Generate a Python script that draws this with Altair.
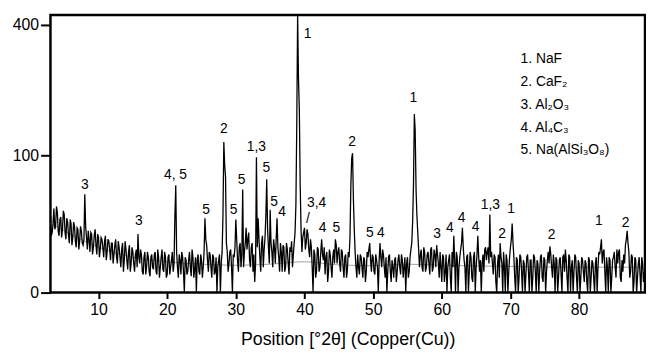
import altair as alt
import pandas as pd

# ---- data ----
two_theta_start = 3.0
two_theta_step = 0.25
# intensities on the 0.25° grid (3.00 ... 89.50)
intensity = [
    30, 18, 36, 22, 33, 16, 29, 20, 31, 14, 25, 12, 24, 15, 22, 10, 20, 13, 19, 11,
    50, 15, 19, 8, 17, 10, 20, 7, 15, 9, 14, 6, 16, 8, 13, 5, 12, 7, 14, 4,
    10, 3, 12, 5, 9, 2.5, 11, 4, 8, 2, 9, 17, 4, 7, 1.5, 8, 3, 6, 1.2, 7,
    2.5, 8, 1.5, 6, 3, 9, 2, 6, 1.5, 7, 3, 8, 4, 60, 3, 7, 1.5, 6, 0, 5,
    2, 8, 1.2, 6, 2.5, 0, 7, 1.5, 5, 3, 28, 11, 2, 7, 1, 6, 2, 0, 5, 0,
    8, 121, 70, 8, 4, 9, 0, 6, 27, 5, 10, 3, 55, 8, 21, 14, 5, 10, 2, 0.5,
    97, 28, 6, 12, 3, 15, 67, 10, 35, 8, 14, 4, 28, 6, 12, 2, 10, 3, 9, 1.5,
    8, 3, 12, 40, 429, 180, 20, 15, 21, 12, 17, 6, 10, 0, 7, 2, 9, 3, 14, 5,
    1.5, 8, 2, 7, 1, 9, 14, 4, 10, 2, 8, 1, 7, 2.5, 6, 58, 103, 20, 3, 7,
    1.5, 6, 1, 5, 2, 6, 12, 2, 6, 1.5, 5, 0, 12, 3, 7, 1, 0, 6, 2, 5,
    1, 6, 2, 7, 1.5, 5, 3, 0, 6, 2, 9, 25, 172, 55, 18, 3, 9, 2, 8, 3,
    8, 1.5, 10, 3, 7, 11, 4, 8, 0.5, 6, 2, 0, 5, 1, 8, 16, 0, 6, 3, 9,
    21, 5, 0, 7, 2, 6, 0.5, 8, 3, 16, 2, 0, 7, 9, 5, 10, 31, 8, 1.5, 6,
    0, 7, 12, 4, 8, 0, 5, 2, 10, 24, 6, 0, 5, 1, 6, 0, 4, 1.5, 7, 0,
    5, 1, 6, 0, 4, 2, 7, 0.5, 5, 2, 8, 10.5, 3, 7, 0, 5, 1, 6, 0, 7,
    9, 1, 7, 0, 5, 2, 6, 0, 4, 1, 5, 0.5, 4, 0, 5, 1, 4, 0, 6, 3,
    7, 14, 8, 2, 6, 0, 5, 1, 6, 3, 9, 8, 1, 5, 7, 11, 19, 8, 2, 6,
    0.5, 5, 1, 6, 0, 4, 2,
]
# intensities at the in-between steps (3.125 ... 89.375)
intensity_mid = [
    16, 24, 20, 38, 19, 27, 15, 34, 18, 28, 16, 27, 11, 25, 13, 21, 9, 22, 12, 14,
    22, 9, 14, 18, 7, 16, 11, 17, 6, 15, 10, 13, 5, 14, 9, 12, 4, 11, 6, 13,
    6, 9, 2, 13, 5, 8, 2, 10, 4, 7, 3, 6, 9, 2, 6, 1.5, 8, 2, 6, 3,
    7, 2, 9, 1, 6, 2.5, 8, 1, 6, 1.5, 5, 2, 30, 8, 1, 5, 8, 2, 6, 1.5,
    5, 3, 9, 1, 6, 5, 2, 7, 1, 8, 14, 5, 8, 3, 7, 1.5, 6, 3, 7, 4,
    30, 85, 12, 2, 8, 3, 7, 10, 14, 2, 12, 7, 3, 12, 9, 18, 3, 12, 7, 4,
    10, 14, 2, 16, 9, 30, 20, 4, 12, 3, 10, 14, 10, 2, 8, 11, 2, 12, 4, 10,
    13, 7, 18, 150, 250, 60, 8, 18, 9, 20, 9, 14, 3, 9, 1, 10, 2, 8, 7, 10,
    6, 0.5, 9, 3, 6, 4, 11, 8, 4, 9, 3, 6, 1, 8, 15, 95, 45, 8, 1, 3,
    7, 3, 6, 0.5, 8, 9, 5, 7, 2, 7, 3, 5, 6, 9, 3, 6, 2, 7, 0.5, 3,
    5, 0.5, 5, 3, 7, 1, 6, 4, 1, 6, 12, 60, 140, 30, 9, 7, 3, 10, 2, 7,
    4, 9, 2, 9, 3, 7, 1, 3, 7, 0.5, 7, 3, 7, 0, 3, 5, 8, 0, 6, 12,
    10, 3, 6, 0, 8, 1, 6, 0, 7, 6, 5, 4, 2, 10, 8, 4, 6, 4, 7, 0.5,
    4, 1, 6, 0, 3, 7, 0, 6, 14, 12, 1, 6, 0, 7, 2, 5, 0, 6, 2, 5,
    0, 7, 2, 5, 0, 6, 1, 6, 0, 5, 4, 7, 1, 4, 6, 0, 5, 1.5, 6, 2,
    5, 0, 6, 3, 0, 7, 1, 5, 0, 6, 2, 5, 0.5, 6, 0, 5, 1, 4, 0, 8,
    10, 4, 9, 0, 3, 6, 0, 5, 8, 1, 4, 9, 0.5, 2, 4, 14, 12, 1, 7, 0,
    6, 0, 4, 1.5, 6, 0.5,
]

bg_x = [3, 5, 8, 12, 16, 20, 25, 30, 35, 40, 45, 50, 55, 60, 70, 80, 89.5]
bg_y = [24, 19, 13, 8, 5.5, 4.5, 3.8, 3.5, 3.8, 4.5, 3.6, 3.4, 3.8, 3.5, 3.2, 3.0, 3.0]

label_text = ["3", "3", "4, 5", "5", "2", "5", "5", "1,3", "5", "5", "4", "1",
              "3,4", "/", "4", "5", "2", "5", "4", "1", "3", "4", "4", "4",
              "1,3", "2", "1", "2", "1", "2"]
label_x = [7.99, 15.89, 21.21, 25.67, 28.25, 29.69, 30.84, 33.0, 34.44, 35.59, 36.74, 40.47,
           41.77, 40.5, 42.63, 44.64, 46.94, 49.53, 51.11, 55.85, 59.3, 61.17, 62.9, 64.91,
           67.07, 68.79, 70.08, 75.98, 82.88, 86.76]
label_y = [60, 25.5, 72, 35, 143, 35, 66, 113, 81, 42, 33, 371,
           41.5, 27.5, 20.6, 20.6, 121, 17.4, 17.4, 206, 16.9, 20.6, 28, 21.5,
           39.6, 16.9, 36, 16.2, 25.5, 24.7]

legend_lines = ["1. NaF", "2. CaF₂", "3. Al₂O₃", "4. Al₄C₃", "5. Na(AlSi₃O₈)"]

x_ticks = [10, 20, 30, 40, 50, 60, 70, 80]
y_ticks = [0, 100, 400]

FONT = "Liberation Sans"

# merge the two interleaved sample sets into one trace
pts = [(round(two_theta_start + two_theta_step * i, 3), v) for i, v in enumerate(intensity)]
pts += [(round(two_theta_start + two_theta_step * i + two_theta_step / 2, 3), v)
        for i, v in enumerate(intensity_mid)]
pts.sort(key=lambda p: p[0])
trace_df = pd.DataFrame(pts, columns=["two_theta", "intensity"])
bg_df = pd.DataFrame({"two_theta": bg_x, "intensity": bg_y})
lab_df = pd.DataFrame({"two_theta": label_x, "intensity": label_y, "label": label_text})

xs = alt.Scale(domain=[3, 89.6], nice=False, zero=False)
ys = alt.Scale(type="pow", exponent=0.482, domain=[0, 430], nice=False)

x_axis = alt.Axis(values=x_ticks, title="Position [°2θ] (Copper(Cu))", grid=False, domain=False,
                  tickSize=6, tickWidth=2, tickColor="black", labelFontSize=16, labelColor="black",
                  labelFont=FONT, titleFont=FONT, titleFontSize=18, titleFontWeight="normal",
                  titleColor="black", titlePadding=14, labelPadding=3)
y_axis = alt.Axis(values=y_ticks, title=None, grid=False, domain=False, tickSize=10, tickWidth=2,
                  tickColor="black", labelFontSize=16, labelColor="black", labelFont=FONT,
                  labelPadding=2)

bg = alt.Chart(bg_df).mark_line(color="#8a8a8a", strokeWidth=0.8, interpolate="monotone").encode(
    x=alt.X("two_theta:Q", scale=xs, axis=x_axis),
    y=alt.Y("intensity:Q", scale=ys, axis=y_axis),
)

trace = alt.Chart(trace_df).mark_line(color="black", strokeWidth=1.3, clip=True).encode(
    x=alt.X("two_theta:Q", scale=xs, axis=x_axis),
    y=alt.Y("intensity:Q", scale=ys, axis=y_axis),
)

labels = alt.Chart(lab_df).mark_text(font=FONT, fontSize=14, color="black",
                                     align="center", baseline="middle").encode(
    x=alt.X("two_theta:Q", scale=xs),
    y=alt.Y("intensity:Q", scale=ys),
    text="label:N",
)

legend = alt.Chart(alt.Data(values=[{}])).mark_text(
    font=FONT, fontSize=14, color="black", align="left", baseline="alphabetic", lineHeight=23
).encode(x=alt.value(476), y=alt.value(49), text=alt.value(legend_lines))

chart = alt.layer(bg, trace, labels, legend).properties(
    width=602, height=281,
    autosize=alt.AutoSizeParams(type="none"),
    padding={"left": 43, "top": 5, "right": 1, "bottom": 58},
).configure_view(stroke="black", strokeWidth=2.5)

chart.save("out.html", embed_options={"renderer": "svg", "actions": False})
